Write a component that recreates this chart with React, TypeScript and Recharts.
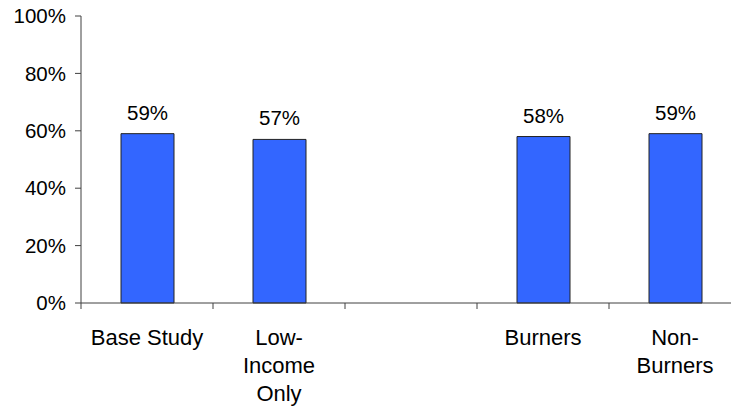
import { BarChart, Bar, XAxis, YAxis, LabelList } from "recharts";

// categories (multi-line labels split on \n); the blank slot is a gap in the original
const categories = ["Base Study", "Low-\nIncome\nOnly", "", "Burners", "Non-\nBurners"];
const shares = [59, 57, null, 58, 59];
const yTicks = [0, 20, 40, 60, 80, 100];

const chartData = categories.map((name, i) => ({ name, value: shares[i] }));

const FONT = "Arial, 'Liberation Sans', sans-serif";
const AXIS = "#404040";

const CategoryTick = ({ x, y, payload, index, visibleTicksCount, width }: any) => {
    const step = width / (visibleTicksCount || categories.length);
    const left = x - step / 2;
    const lines = String(payload.value).split("\n");
    return (
        <g>
            <line x1={left} y1={y - 8} x2={left} y2={y - 2} stroke={AXIS} strokeWidth={1} />
            {index === categories.length - 1 && (
                <line x1={left + step} y1={y - 8} x2={left + step} y2={y - 2} stroke={AXIS} strokeWidth={1} />
            )}
            <text x={x} y={y + 34} textAnchor="middle" fontSize={22} fontFamily={FONT} fill="#000">
                {lines.map((l, i) => (
                    <tspan key={i} x={x} dy={i === 0 ? 0 : 28}>{l}</tspan>
                ))}
            </text>
        </g>
    );
};

export default function App() {
    return (
        <div style={{ width: 731, height: 407, overflow: "hidden", background: "#fff" }}>
            <style>{"body{margin:0}"}</style>
            <BarChart
                width={746}
                height={407}
                data={chartData}
                margin={{ top: 16, right: 5, left: 0, bottom: 0 }}
                barCategoryGap="30%"
            >
                <XAxis
                    dataKey="name"
                    height={104}
                    axisLine={{ stroke: AXIS }}
                    tickLine={false}
                    interval={0}
                    tick={<CategoryTick />}
                />
                <YAxis
                    width={81}
                    domain={[0, 100]}
                    ticks={yTicks}
                    interval={0}
                    axisLine={{ stroke: AXIS }}
                    tickLine={{ stroke: AXIS }}
                    tickSize={6}
                    tickMargin={9}
                    tickFormatter={(v) => `${v}%`}
                    tick={{ fill: "#000", fontSize: 20.5, fontFamily: FONT }}
                />
                <Bar dataKey="value" fill="#3366FF" stroke="#222" strokeWidth={1} barSize={53} isAnimationActive={false}>
                    <LabelList
                        dataKey="value"
                        position="top"
                        offset={14}
                        formatter={(v: any) => (v == null ? "" : `${v}%`)}
                        style={{ fill: "#000", fontSize: 20.5, fontFamily: FONT }}
                    />
                </Bar>
            </BarChart>
        </div>
    );
}
